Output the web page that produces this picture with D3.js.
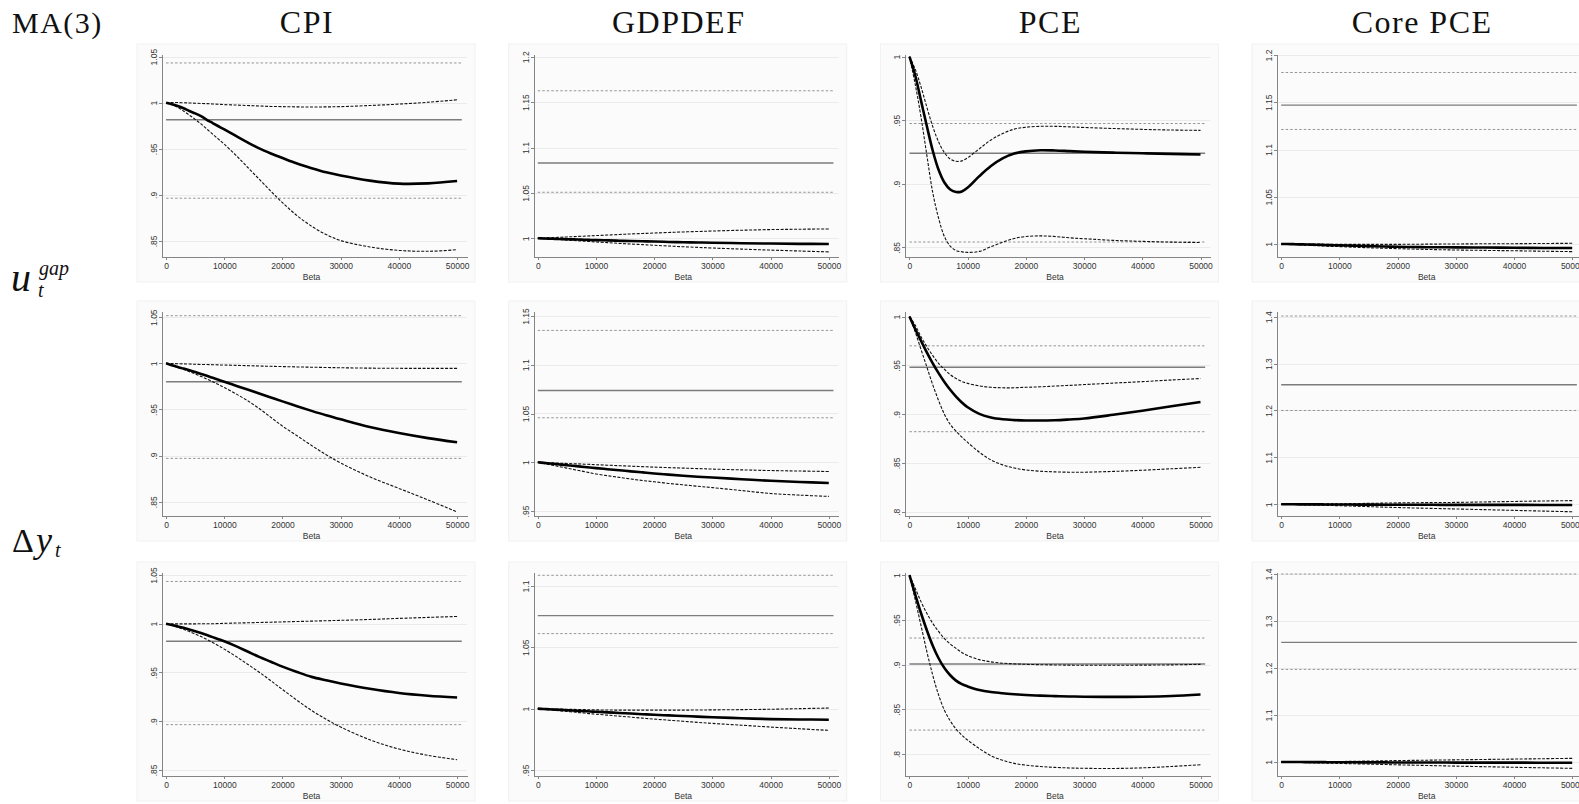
<!DOCTYPE html>
<html>
<head>
<meta charset="utf-8">
<script src="https://cdn.jsdelivr.net/npm/d3@7"></script>
<style>
  html, body { margin: 0; padding: 0; background: #ffffff; }
  svg { display: block; }
  .axis path, .axis line { stroke: #858585; stroke-width: 1; shape-rendering: crispEdges; }
  .axis text { font-family: "Liberation Sans", Arial, sans-serif; font-size: 8.5px; fill: #333; }
  .head { font-family: "Liberation Serif", "DejaVu Serif", serif; fill: #111; }
</style>
</head>
<body>
<svg id="chart" width="1579" height="804"></svg>
<script>
// Smoothing parameter grid shared by every curve
const beta = [0, 1000, 2000, 3000, 4000, 5000, 6000, 7000, 8000, 9000, 10000,
  12000, 14000, 16000, 18000, 20000, 22500, 25000, 27500, 30000, 35000, 40000, 45000, 50000];

const columnTitles = ["CPI", "GDPDEF", "PCE", "Core PCE"];
const xTicks = [0, 10000, 20000, 30000, 40000, 50000];

// ---- Row 1: u_t^gap ----
const gapCpiEst = [1.0, 0.9985, 0.9965, 0.994, 0.991, 0.9885, 0.9855, 0.9815, 0.978, 0.9745, 0.971, 0.964, 0.957, 0.9505, 0.945, 0.940, 0.934, 0.929, 0.9245, 0.921, 0.9155, 0.9122, 0.9125, 0.915];
const gapCpiHi  = [1.0, 1.0003, 1.0002, 1.0, 0.9998, 0.9995, 0.9992, 0.999, 0.9987, 0.9984, 0.998, 0.9975, 0.997, 0.9965, 0.996, 0.9958, 0.9955, 0.9954, 0.9955, 0.9958, 0.997, 0.9985, 1.0005, 1.0032];
const gapCpiLo  = [1.0, 0.998, 0.995, 0.991, 0.9865, 0.982, 0.977, 0.9715, 0.966, 0.9605, 0.955, 0.943, 0.930, 0.917, 0.904, 0.8915, 0.8775, 0.866, 0.857, 0.8505, 0.8435, 0.8398, 0.8388, 0.8405];
const gapCpiRef = [1.0432, 0.9815, 0.8964];

const gapGdpEst = [1.0, 0.9998, 0.9996, 0.9994, 0.9992, 0.999, 0.9988, 0.9986, 0.9984, 0.9982, 0.998, 0.9977, 0.9973, 0.997, 0.9967, 0.9964, 0.996, 0.9957, 0.9954, 0.9951, 0.9946, 0.9942, 0.9939, 0.9937];
const gapGdpHi  = [1.0, 1.0003, 1.0006, 1.0009, 1.0012, 1.0015, 1.0018, 1.0021, 1.0024, 1.0027, 1.003, 1.0036, 1.0042, 1.0048, 1.0053, 1.0058, 1.0064, 1.007, 1.0075, 1.008, 1.0089, 1.0096, 1.01, 1.0103];
const gapGdpLo  = [1.0, 0.9996, 0.9992, 0.9988, 0.9984, 0.998, 0.9976, 0.9972, 0.9968, 0.9964, 0.996, 0.9952, 0.9944, 0.9937, 0.993, 0.9923, 0.9915, 0.9907, 0.99, 0.9893, 0.9881, 0.987, 0.986, 0.985];
const gapGdpRef = [1.1625, 1.083, 1.0507];

const gapPceEst = [1.0, 0.985, 0.965, 0.945, 0.926, 0.911, 0.901, 0.8955, 0.8935, 0.894, 0.897, 0.906, 0.914, 0.920, 0.9238, 0.9255, 0.9264, 0.9262, 0.9257, 0.9252, 0.9245, 0.924, 0.9235, 0.923];
const gapPceHi  = [1.0, 0.99, 0.976, 0.96, 0.945, 0.933, 0.9245, 0.9195, 0.9177, 0.918, 0.9205, 0.9275, 0.9345, 0.9395, 0.943, 0.9445, 0.9452, 0.9452, 0.9448, 0.9443, 0.9435, 0.9428, 0.9423, 0.942];
const gapPceLo  = [1.0, 0.978, 0.952, 0.922, 0.893, 0.873, 0.8585, 0.851, 0.8475, 0.8465, 0.846, 0.8468, 0.8505, 0.854, 0.857, 0.8585, 0.859, 0.8585, 0.8575, 0.8568, 0.8555, 0.8547, 0.8541, 0.8538];
const gapPceRef = [0.9474, 0.924, 0.8542];

const gapCoreEst = [1.0, 0.9999, 0.9998, 0.9996, 0.9995, 0.9993, 0.9992, 0.999, 0.9988, 0.9987, 0.9985, 0.9982, 0.9979, 0.9976, 0.9973, 0.997, 0.9968, 0.9966, 0.9965, 0.9964, 0.9962, 0.996, 0.9958, 0.9957];
const gapCoreHi  = [1.0, 1.0, 1.0, 0.9999, 0.9999, 0.9998, 0.9998, 0.9998, 0.9997, 0.9997, 0.9997, 0.9996, 0.9996, 0.9996, 0.9996, 0.9996, 0.9997, 0.9998, 0.9999, 1.0, 1.0002, 1.0003, 1.0005, 1.0007];
const gapCoreLo  = [1.0, 0.9997, 0.9994, 0.9991, 0.9988, 0.9985, 0.9982, 0.998, 0.9977, 0.9974, 0.9972, 0.9967, 0.9962, 0.9958, 0.9954, 0.995, 0.9946, 0.9942, 0.9939, 0.9936, 0.9932, 0.9928, 0.9923, 0.9919];
const gapCoreRef = [1.1815, 1.147, 1.1212];

// ---- Row 2: Δy_t ----
const dyCpiEst = [1.0, 0.998, 0.996, 0.9943, 0.9925, 0.9905, 0.9885, 0.9865, 0.9843, 0.9822, 0.980, 0.9758, 0.9716, 0.9673, 0.963, 0.9588, 0.9535, 0.9485, 0.9437, 0.9393, 0.931, 0.9245, 0.919, 0.9145];
const dyCpiHi  = [1.0, 0.9998, 0.9996, 0.9994, 0.9992, 0.999, 0.9988, 0.9987, 0.9985, 0.9983, 0.9982, 0.9978, 0.9975, 0.9971, 0.9968, 0.9965, 0.9961, 0.9958, 0.9955, 0.9952, 0.9948, 0.9946, 0.9945, 0.9945];
const dyCpiLo  = [1.0, 0.9979, 0.9957, 0.9934, 0.991, 0.9885, 0.9858, 0.983, 0.98, 0.977, 0.9738, 0.967, 0.9595, 0.951, 0.9415, 0.932, 0.9215, 0.911, 0.901, 0.892, 0.877, 0.8645, 0.852, 0.839];
const dyCpiRef = [1.0516, 0.980, 0.897];

const dyGdpEst = [1.0, 0.9994, 0.9988, 0.9982, 0.9976, 0.997, 0.9964, 0.9958, 0.9952, 0.9946, 0.994, 0.9929, 0.9918, 0.9907, 0.9896, 0.9885, 0.9873, 0.9862, 0.9852, 0.9843, 0.9826, 0.981, 0.9798, 0.9788];
const dyGdpHi  = [1.0, 0.9998, 0.9995, 0.9993, 0.999, 0.9988, 0.9985, 0.9983, 0.998, 0.9978, 0.9975, 0.997, 0.9965, 0.996, 0.9955, 0.995, 0.9945, 0.994, 0.9935, 0.993, 0.9922, 0.9915, 0.991, 0.9905];
const dyGdpLo  = [1.0, 0.9988, 0.9976, 0.9964, 0.9952, 0.994, 0.9928, 0.9916, 0.9904, 0.9892, 0.988, 0.9862, 0.9845, 0.9828, 0.9813, 0.98, 0.9783, 0.9768, 0.9754, 0.974, 0.971, 0.968, 0.9663, 0.965];
const dyGdpRef = [1.1352, 1.0736, 1.0456];

const dyPceEst = [1.0, 0.987, 0.975, 0.963, 0.952, 0.942, 0.933, 0.925, 0.918, 0.912, 0.907, 0.9003, 0.8965, 0.8947, 0.8939, 0.8935, 0.8935, 0.8937, 0.8945, 0.8955, 0.8993, 0.9035, 0.908, 0.9125];
const dyPceHi  = [1.0, 0.991, 0.979, 0.969, 0.96, 0.952, 0.946, 0.9405, 0.9365, 0.9335, 0.9315, 0.929, 0.9275, 0.927, 0.927, 0.9275, 0.928, 0.9288, 0.9295, 0.9303, 0.9318, 0.9333, 0.935, 0.9365];
const dyPceLo  = [1.0, 0.984, 0.966, 0.948, 0.93, 0.914, 0.9, 0.8895, 0.8825, 0.8765, 0.871, 0.861, 0.853, 0.848, 0.8448, 0.8428, 0.8415, 0.8408, 0.8405, 0.8405, 0.8413, 0.8425, 0.844, 0.8455];
const dyPceRef = [0.970, 0.948, 0.882];

const dyCoreEst = [1.0, 1.0, 0.9999, 0.9999, 0.9998, 0.9998, 0.9997, 0.9997, 0.9996, 0.9996, 0.9995, 0.9994, 0.9993, 0.9992, 0.9991, 0.999, 0.9989, 0.9989, 0.9988, 0.9988, 0.9987, 0.9987, 0.9986, 0.9985];
const dyCoreHi  = [1.0, 1.0001, 1.0002, 1.0003, 1.0004, 1.0005, 1.0006, 1.0007, 1.0008, 1.0009, 1.001, 1.0014, 1.0018, 1.0022, 1.0026, 1.003, 1.0033, 1.0035, 1.0038, 1.004, 1.005, 1.006, 1.007, 1.0078];
const dyCoreLo  = [1.0, 0.9997, 0.9994, 0.9991, 0.9988, 0.9985, 0.9982, 0.9979, 0.9976, 0.9973, 0.997, 0.9962, 0.9954, 0.9946, 0.9938, 0.993, 0.9922, 0.9915, 0.9908, 0.99, 0.9885, 0.987, 0.9855, 0.984];
const dyCoreRef = [1.4015, 1.255, 1.2];

// ---- Row 3 ----
const r3CpiEst = [1.0, 0.9987, 0.9973, 0.9958, 0.9941, 0.9923, 0.9904, 0.9884, 0.9863, 0.9842, 0.982, 0.977, 0.9715, 0.966, 0.961, 0.956, 0.9505, 0.9455, 0.942, 0.9388, 0.9333, 0.929, 0.9262, 0.9244];
const r3CpiHi  = [1.0, 0.9999, 0.9999, 0.9999, 0.9999, 0.9999, 1.0, 1.0, 1.0, 1.0002, 1.0004, 1.0007, 1.001, 1.0013, 1.0016, 1.0019, 1.0023, 1.0027, 1.0031, 1.0035, 1.0044, 1.0055, 1.0065, 1.0075];
const r3CpiLo  = [1.0, 0.9983, 0.9964, 0.9943, 0.992, 0.9895, 0.9868, 0.9839, 0.9808, 0.9775, 0.974, 0.9665, 0.9585, 0.9503, 0.9415, 0.9325, 0.9215, 0.911, 0.902, 0.894, 0.881, 0.8715, 0.865, 0.8605];
const r3CpiRef = [1.0434, 0.982, 0.8965];

const r3GdpEst = [1.0, 0.9997, 0.9995, 0.9992, 0.999, 0.9987, 0.9985, 0.9982, 0.998, 0.9977, 0.9975, 0.997, 0.9965, 0.996, 0.9955, 0.995, 0.9945, 0.994, 0.9935, 0.993, 0.9922, 0.9915, 0.9912, 0.991];
const r3GdpHi  = [1.0, 0.9999, 0.9998, 0.9997, 0.9996, 0.9995, 0.9994, 0.9993, 0.9992, 0.9991, 0.999, 0.9989, 0.9988, 0.9988, 0.9988, 0.9988, 0.9988, 0.9988, 0.9989, 0.999, 0.9992, 0.9995, 1.0, 1.0005];
const r3GdpLo  = [1.0, 0.9995, 0.999, 0.9986, 0.9982, 0.9977, 0.9973, 0.9968, 0.9964, 0.9959, 0.9955, 0.9947, 0.9939, 0.9931, 0.9923, 0.9915, 0.9906, 0.9897, 0.9888, 0.988, 0.9865, 0.985, 0.9836, 0.9823];
const r3GdpRef = [1.1087, 1.0758, 1.0612];

const r3PceEst = [1.0, 0.978, 0.957, 0.938, 0.921, 0.907, 0.896, 0.888, 0.882, 0.878, 0.8755, 0.8715, 0.8692, 0.8678, 0.8668, 0.866, 0.8652, 0.8647, 0.8643, 0.864, 0.8638, 0.864, 0.8648, 0.8665];
const r3PceHi  = [1.0, 0.985, 0.97, 0.957, 0.946, 0.937, 0.929, 0.923, 0.918, 0.9135, 0.91, 0.9055, 0.903, 0.9015, 0.9007, 0.9002, 0.8998, 0.8995, 0.8993, 0.8992, 0.8992, 0.8993, 0.8996, 0.9002];
const r3PceLo  = [1.0, 0.972, 0.943, 0.914, 0.888, 0.866, 0.849, 0.837, 0.828, 0.821, 0.8155, 0.806, 0.798, 0.793, 0.7895, 0.7875, 0.786, 0.785, 0.7844, 0.784, 0.7838, 0.7845, 0.786, 0.788];
const r3PceRef = [0.9296, 0.9005, 0.8267];

const r3CoreEst = [1.0, 1.0, 0.9999, 0.9999, 0.9998, 0.9998, 0.9997, 0.9997, 0.9996, 0.9996, 0.9995, 0.9994, 0.9993, 0.9992, 0.9991, 0.999, 0.9989, 0.9988, 0.9988, 0.9987, 0.9986, 0.9986, 0.9985, 0.9985];
const r3CoreHi  = [1.0, 1.0001, 1.0002, 1.0003, 1.0004, 1.0005, 1.0006, 1.0007, 1.0008, 1.0009, 1.001, 1.0014, 1.0018, 1.0022, 1.0026, 1.003, 1.0034, 1.0038, 1.0042, 1.0046, 1.0054, 1.0062, 1.007, 1.0078];
const r3CoreLo  = [1.0, 0.9997, 0.9994, 0.9991, 0.9988, 0.9985, 0.9982, 0.9979, 0.9976, 0.9973, 0.997, 0.9964, 0.9958, 0.9952, 0.9946, 0.994, 0.9933, 0.9926, 0.9919, 0.9912, 0.99, 0.9888, 0.9876, 0.9865];
const r3CoreRef = [1.40, 1.2545, 1.197];

// y-axis ranges and tick values, one entry per column, for each row
const row1Domains = [[0.8326, 1.0529], [0.9794, 1.2030], [0.8424, 1.0021], [0.9862, 1.2011]];
const row2Domains = [[0.8346, 1.0567], [0.9449, 1.1551], [0.7956, 1.0057], [0.975, 1.4122]];
const row3Domains = [[0.8438, 1.0531], [0.9451, 1.1114], [0.7754, 1.0034], [0.9702, 1.4043]];

const row1Ticks = [[0.85, 0.9, 0.95, 1, 1.05], [1, 1.05, 1.1, 1.15, 1.2], [0.85, 0.9, 0.95, 1], [1, 1.05, 1.1, 1.15, 1.2]];
const row2Ticks = [[0.85, 0.9, 0.95, 1, 1.05], [0.95, 1, 1.05, 1.1, 1.15], [0.8, 0.85, 0.9, 0.95, 1], [1, 1.1, 1.2, 1.3, 1.4]];
const row3Ticks = [[0.85, 0.9, 0.95, 1, 1.05], [0.95, 1, 1.05, 1.1], [0.8, 0.85, 0.9, 0.95, 1], [1, 1.1, 1.2, 1.3, 1.4]];

// Assemble the panel table from the arrays above
const rowsData = [
  [[gapCpiEst, gapCpiHi, gapCpiLo, gapCpiRef], [gapGdpEst, gapGdpHi, gapGdpLo, gapGdpRef],
   [gapPceEst, gapPceHi, gapPceLo, gapPceRef], [gapCoreEst, gapCoreHi, gapCoreLo, gapCoreRef]],
  [[dyCpiEst, dyCpiHi, dyCpiLo, dyCpiRef], [dyGdpEst, dyGdpHi, dyGdpLo, dyGdpRef],
   [dyPceEst, dyPceHi, dyPceLo, dyPceRef], [dyCoreEst, dyCoreHi, dyCoreLo, dyCoreRef]],
  [[r3CpiEst, r3CpiHi, r3CpiLo, r3CpiRef], [r3GdpEst, r3GdpHi, r3GdpLo, r3GdpRef],
   [r3PceEst, r3PceHi, r3PceLo, r3PceRef], [r3CoreEst, r3CoreHi, r3CoreLo, r3CoreRef]]
];
const rowDomains = [row1Domains, row2Domains, row3Domains];
const rowTicks = [row1Ticks, row2Ticks, row3Ticks];

// ---- layout ----
const svg = d3.select("#chart");
svg.append("rect").attr("width", 1579).attr("height", 804).attr("fill", "#ffffff");

const axisLeftX = c => 162 + c * 371.7;
const plotTops = [54, 311, 572];
const plotBottoms = [257, 516, 776];
const plotWidth = 305;
const xDomain = [-700, 51700];
const refSpan = [0, 50800];

const tickFmt = d => d3.format(".3~f")(d).replace(/^0\./, ".");

const lineGen = (x, y) => d3.line()
  .x((d, i) => x(beta[i]))
  .y(d => y(d))
  .curve(d3.curveCatmullRom.alpha(0.5));

rowsData.forEach((row, r) => {
  row.forEach((panel, c) => {
    const [est, hi, lo, ref] = panel;
    const ax = axisLeftX(c);
    const top = plotTops[r], bottom = plotBottoms[r];
    const x = d3.scaleLinear().domain(xDomain).range([ax, ax + plotWidth]);
    const y = d3.scaleLinear().domain(rowDomains[r][c]).range([bottom, top]);
    const g = svg.append("g");

    // graph region background
    g.append("rect")
      .attr("x", ax - 25).attr("y", top - 10)
      .attr("width", 338).attr("height", bottom - top + 35)
      .attr("fill", "#fbfbfb").attr("stroke", "#f1f1f1").attr("stroke-width", 1);

    // horizontal grid
    g.selectAll(".grid").data(rowTicks[r][c]).enter().append("line")
      .attr("x1", ax).attr("x2", ax + plotWidth)
      .attr("y1", d => Math.round(y(d)) + 0.5).attr("y2", d => Math.round(y(d)) + 0.5)
      .attr("stroke", "#ebebeb").attr("stroke-width", 1);

    // reference levels: bounds dashed, centre solid
    const refLine = v => d3.line()([[x(refSpan[0]), y(v)], [x(refSpan[1]), y(v)]]);
    g.append("path").attr("d", refLine(ref[0])).attr("fill", "none")
      .attr("stroke", "#8a8a8a").attr("stroke-width", 0.9).attr("stroke-dasharray", "2.5,2");
    g.append("path").attr("d", refLine(ref[2])).attr("fill", "none")
      .attr("stroke", "#8a8a8a").attr("stroke-width", 0.9).attr("stroke-dasharray", "2.5,2");
    g.append("path").attr("d", refLine(ref[1])).attr("fill", "none")
      .attr("stroke", "#7c7c7c").attr("stroke-width", 1.4);

    // axes
    const yAxis = g.append("g").attr("class", "axis")
      .attr("transform", `translate(${ax},0)`)
      .call(d3.axisLeft(y).tickValues(rowTicks[r][c]).tickSize(3).tickSizeOuter(0).tickFormat(tickFmt));
    yAxis.selectAll("text")
      .attr("transform", "rotate(-90)")
      .attr("x", 0).attr("y", -5).attr("dy", "0")
      .style("text-anchor", "middle");

    g.append("g").attr("class", "axis")
      .attr("transform", `translate(0,${bottom})`)
      .call(d3.axisBottom(x).tickValues(xTicks).tickSize(3).tickSizeOuter(0).tickFormat(d3.format("d")))
      .selectAll("text").attr("y", 6).attr("dy", "0.71em");

    g.append("text")
      .attr("x", x(25000)).attr("y", bottom + 23)
      .attr("text-anchor", "middle")
      .style("font-family", "'Liberation Sans', Arial, sans-serif")
      .style("font-size", "8.5px").style("fill", "#333")
      .text("Beta");

    // confidence band and estimate
    const lg = lineGen(x, y);
    [hi, lo].forEach(s => {
      g.append("path").attr("d", lg(s)).attr("fill", "none")
        .attr("stroke", "#111").attr("stroke-width", 1.1).attr("stroke-dasharray", "3,1.5");
    });
    g.append("path").attr("d", lg(est)).attr("fill", "none")
      .attr("stroke", "#000").attr("stroke-width", 2.6).attr("stroke-linejoin", "round");
  });
});

// column headers
columnTitles.forEach((t, c) => {
  svg.append("text").attr("class", "head")
    .attr("x", axisLeftX(c) + 145).attr("y", 33)
    .attr("text-anchor", "middle")
    .style("font-size", "32px").style("letter-spacing", "1.5px")
    .text(t);
});

// corner and row labels
svg.append("text").attr("class", "head")
  .attr("x", 12).attr("y", 33).style("font-size", "30px").style("letter-spacing", "1.5px")
  .text("MA(3)");

svg.append("text").attr("class", "head").attr("x", 11).attr("y", 291)
  .style("font-size", "40px").style("font-style", "italic").text("u");
svg.append("text").attr("class", "head").attr("x", 39).attr("y", 275)
  .style("font-size", "20px").style("font-style", "italic").text("gap");
svg.append("text").attr("class", "head").attr("x", 38).attr("y", 297)
  .style("font-size", "20px").style("font-style", "italic").text("t");

svg.append("text").attr("class", "head").attr("x", 12).attr("y", 552)
  .style("font-size", "34px").text("Δ");
svg.append("text").attr("class", "head").attr("x", 36).attr("y", 552)
  .style("font-size", "36px").style("font-style", "italic").text("y");
svg.append("text").attr("class", "head").attr("x", 55).attr("y", 557)
  .style("font-size", "20px").style("font-style", "italic").text("t");
</script>
</body>
</html>
